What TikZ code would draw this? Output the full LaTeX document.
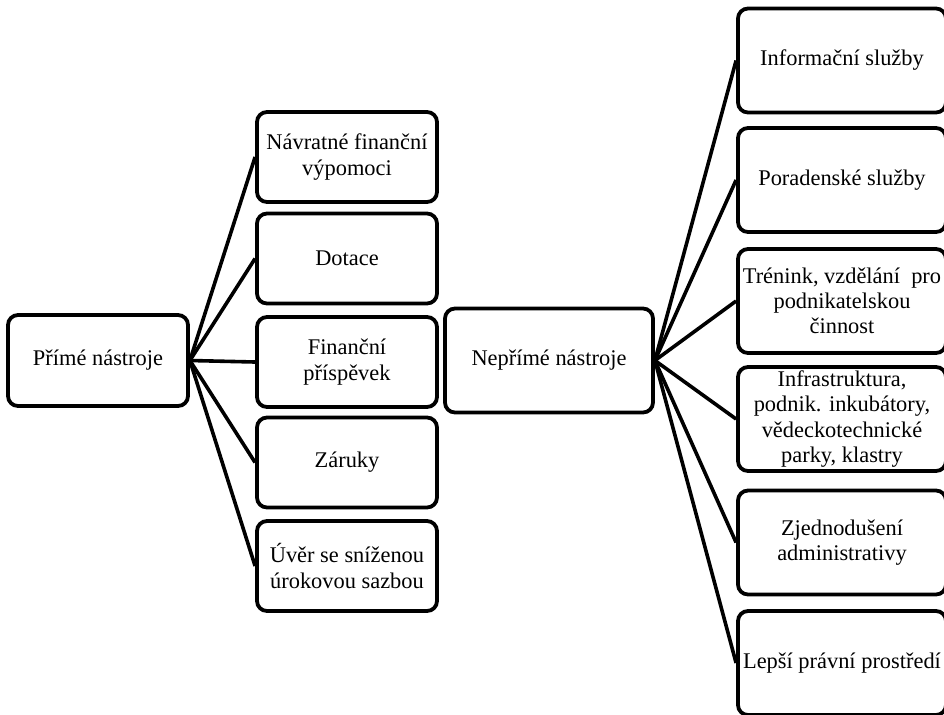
\documentclass[tikz,border=0pt]{standalone}
\usepackage{fontspec}
\setmainfont{Liberation Serif}
\begin{document}
\begin{tikzpicture}[x=0.5pt,y=-0.5pt,
  box/.style={draw,line width=1.9pt,rounded corners=5pt,align=center,inner sep=1pt,
    font=\fontsize{11.2}{12.6}\selectfont},
  lbox/.style={box,minimum width=90pt,minimum height=45pt},
  rbox/.style={box,minimum width=104pt,minimum height=52pt},
  link/.style={line width=1.8pt}]
  \useasboundingbox (0,0) rectangle (944,714);
  \node[lbox,minimum height=45.5pt] (prime) at (98,360.5) {Přímé nástroje};
  \node[lbox] (vypomoci) at (347,157) {Návratné finanční\\výpomoci};
  \node[lbox] (dotace) at (347,258.5) {Dotace};
  \node[lbox] (prispevek) at (347,362) {Finanční\\příspěvek};
  \node[lbox] (zaruky) at (347,462.5) {Záruky};
  \node[lbox] (uver) at (347,566) {Úvěr se sníženou\\úrokovou sazbou};
  \node[rbox] (neprime) at (549,360.5) {Nepřímé nástroje};
  \node[rbox] (info) at (842,60.5) {Informační služby};
  \node[rbox] (porad) at (842,180) {Poradenské služby};
  \node[rbox] (trenink) at (842,301) {Trénink, vzdělání\ \ pro\\podnikatelskou\\činnost};
  \node[rbox] (infra) at (842,419) {Infrastruktura,\\podnik. inkubátory,\\vědeckotechnické\\parky, klastry};
  \node[rbox] (admin) at (842,542.5) {Zjednodušení\\administrativy};
  \node[rbox] (pravo) at (842,663) {Lepší právní prostředí};
  \foreach \n in {vypomoci,dotace,prispevek,zaruky,uver}
    \draw[link] (prime.east) -- (\n.west);
  \foreach \n in {info,porad,trenink,infra,admin,pravo}
    \draw[link] (neprime.east) -- (\n.west);
\end{tikzpicture}
\end{document}
